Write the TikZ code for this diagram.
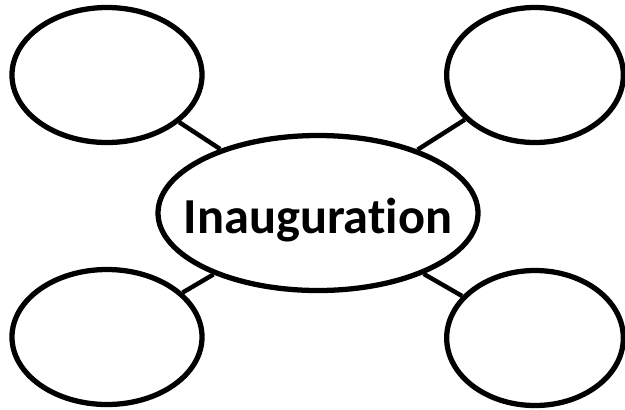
\documentclass[tikz,border=0pt]{standalone}
\usepackage{fontspec}
\setmainfont{Carlito}[Ligatures=NoCommon]
\usepackage{tikz}
\usetikzlibrary{shapes.geometric}

\begin{document}
\begin{tikzpicture}[
  x=0.03cm, y=-0.03cm,
  bubble/.style={draw=black, ellipse, line width=4.5pt,
    minimum width=5.7cm, minimum height=4.05cm, inner sep=0pt},
  hub/.style={draw=black, ellipse, line width=4.5pt,
    minimum width=9.6cm, minimum height=4.65cm, inner sep=0pt,
    font=\bfseries\fontsize{43}{43}\selectfont},
  link/.style={line width=3.8pt, draw=black}
]
\useasboundingbox (0,0) rectangle (625,409);
\node[hub] (center) at (318,213) {\makebox[0pt]{\raisebox{-0.6cm}[0pt][0pt]{Inauguration}}};
\node[bubble] (tl) at (107,75) {};
\node[bubble, minimum width=5.3cm] (tr) at (535,75) {};
\node[bubble] (bl) at (107,337) {};
\node[bubble, minimum width=5.3cm] (br) at (535,338) {};

\draw[link] (tl) -- (center);
\draw[link] (tr) -- (center);
\draw[link] (bl) -- (center);
\draw[link] (br) -- (center);
\end{tikzpicture}
\end{document}
